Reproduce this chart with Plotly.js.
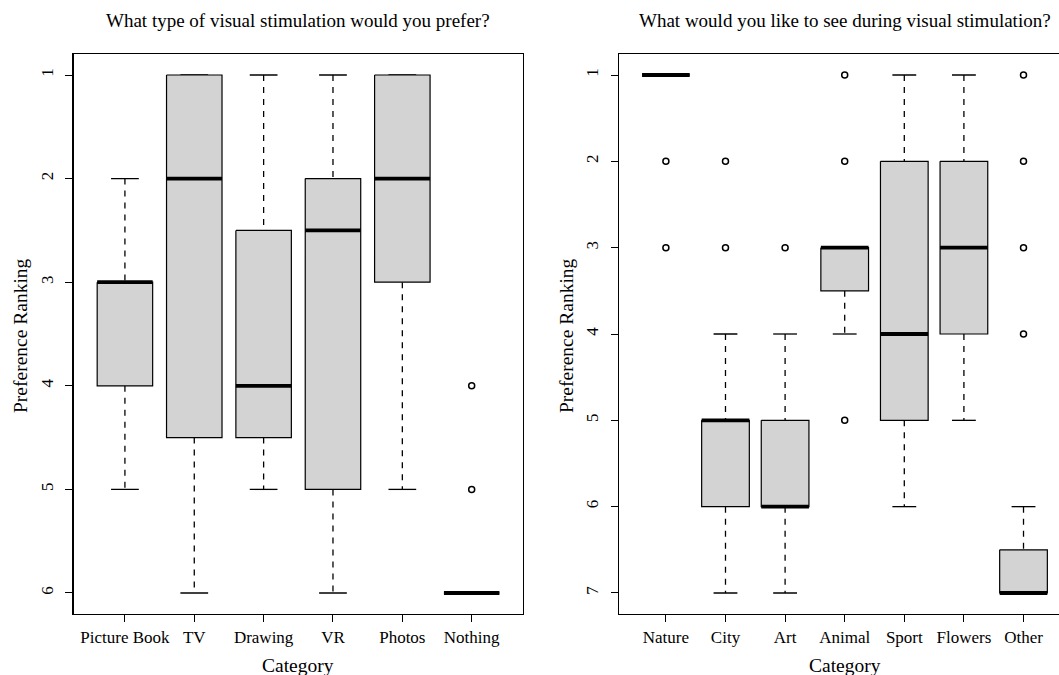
<!DOCTYPE html>
<html>
<head>
<meta charset="utf-8">
<script src="https://cdn.plot.ly/plotly-3.0.1.min.js"></script>
<style>
html,body{margin:0;padding:0;overflow:hidden;background:#fff;}
#chart{width:1075px;height:675px;}
</style>
</head>
<body>
<div id="chart"></div>
<script>
// ---------- Data ----------
const leftTitle = "What type of visual stimulation would you prefer?";
const leftCategories = ["Picture Book", "TV", "Drawing", "VR", "Photos", "Nothing"];
const leftWhiskerTop = [2, 1, 1, 1, 1, 6];
const leftQ1 = [3, 1, 2.5, 2, 1, 6];
const leftMedian = [3, 2, 4, 2.5, 2, 6];
const leftQ3 = [4, 4.5, 4.5, 5, 3, 6];
const leftWhiskerBottom = [5, 6, 5, 6, 5, 6];
const leftOutliers = [[], [], [], [], [], [4, 5]];
const leftTicks = [1, 2, 3, 4, 5, 6];

const rightTitle = "What would you like to see during visual stimulation?";
const rightCategories = ["Nature", "City", "Art", "Animal", "Sport", "Flowers", "Other"];
const rightWhiskerTop = [1, 4, 4, 3, 1, 1, 6];
const rightQ1 = [1, 5, 5, 3, 2, 2, 6.5];
const rightMedian = [1, 5, 6, 3, 4, 3, 7];
const rightQ3 = [1, 6, 6, 3.5, 5, 4, 7];
const rightWhiskerBottom = [1, 7, 7, 4, 6, 5, 7];
const rightOutliers = [[2, 3], [2, 3], [3], [1, 2, 5], [], [], [1, 2, 3, 4]];
const rightTicks = [1, 2, 3, 4, 5, 6, 7];

const xLabel = "Category";
const yLabel = "Preference Ranking";

// ---------- Build ----------
const W = 1075, H = 675;
const FONT = "Liberation Serif, Times New Roman, serif";
const traces = [];

function addBoxes(xa, ya, cats, wTop, q1, med, q3, wBot, outs) {
  cats.forEach((c, k) => {
    const i = k + 1;
    const hw = 0.4, cw = 0.2;
    traces.push({type: "scatter", mode: "lines", xaxis: xa, yaxis: ya,
      x: [i, i, null, i, i], y: [wTop[k], q1[k], null, q3[k], wBot[k]],
      line: {color: "black", width: 1.3, dash: "6px,6px"}, hoverinfo: "skip"});
    traces.push({type: "scatter", mode: "lines", xaxis: xa, yaxis: ya,
      x: [i - cw, i + cw, null, i - cw, i + cw], y: [wTop[k], wTop[k], null, wBot[k], wBot[k]],
      line: {color: "black", width: 1.3}, hoverinfo: "skip"});
    traces.push({type: "scatter", mode: "lines", xaxis: xa, yaxis: ya,
      x: [i - hw, i + hw, i + hw, i - hw, i - hw], y: [q1[k], q1[k], q3[k], q3[k], q1[k]],
      fill: "toself", fillcolor: "#d3d3d3", line: {color: "black", width: 1.2}, hoverinfo: "skip"});
    traces.push({type: "scatter", mode: "lines", xaxis: xa, yaxis: ya,
      x: [i - hw, i + hw], y: [med[k], med[k]],
      line: {color: "black", width: 3.8}, hoverinfo: "skip"});
    if (outs[k].length) {
      traces.push({type: "scatter", mode: "markers", xaxis: xa, yaxis: ya,
        x: outs[k].map(() => i), y: outs[k],
        marker: {symbol: "circle-open", size: 6, color: "black", line: {width: 1.5, color: "black"}},
        hoverinfo: "skip"});
    }
  });
}

addBoxes("x", "y", leftCategories, leftWhiskerTop, leftQ1, leftMedian, leftQ3, leftWhiskerBottom, leftOutliers);
addBoxes("x2", "y2", rightCategories, rightWhiskerTop, rightQ1, rightMedian, rightQ3, rightWhiskerBottom, rightOutliers);

const plotTop = 54.3, plotBot = 613.7;
const yDom = [1 - plotBot / H, 1 - plotTop / H];
const L1 = 73.6, R1 = 523, L2 = 619.4, R2 = 1070;

function xAxis(dom, cats) {
  const n = cats.length;
  const ext = n * 0.04;
  return {domain: dom, range: [0.5 - ext, n + 0.5 + ext], tickmode: "array",
    tickvals: cats.map((c, k) => k + 1), ticktext: cats,
    ticks: "outside", ticklen: 7, tickwidth: 1, tickcolor: "black",
    showline: true, linecolor: "black", linewidth: 1.2, mirror: true,
    showgrid: false, zeroline: false, fixedrange: true,
    tickfont: {family: FONT, size: 17, color: "black"}, ticklabelstandoff: 1};
}
function yAxis(anchor, ticks) {
  const n = ticks.length;
  const ext = (n - 1) * 0.04;
  return {anchor: anchor, domain: yDom, range: [n + ext, 1 - ext], tickmode: "array",
    tickvals: ticks, ticktext: ticks.map(String), tickangle: -90,
    ticks: "outside", ticklen: 7, tickwidth: 1, tickcolor: "black",
    showline: true, linecolor: "black", linewidth: 1.2, mirror: true,
    showgrid: false, zeroline: false, fixedrange: true,
    tickfont: {family: FONT, size: 17, color: "black"}, ticklabelstandoff: 6};
}

const xa1 = xAxis([L1 / W, R1 / W], leftCategories); xa1.anchor = "y";
const xa2 = xAxis([L2 / W, R2 / W], rightCategories); xa2.anchor = "y2";

function ann(text, xpx, ypx, size, angle) {
  return {text: text, xref: "paper", yref: "paper", x: xpx / W, y: 1 - ypx / H,
    xanchor: "center", yanchor: "middle", showarrow: false, textangle: angle || 0,
    font: {family: FONT, size: size, color: "black"}};
}

const layout = {
  width: W, height: H, margin: {l: 0, r: 0, t: 0, b: 0},
  paper_bgcolor: "white", plot_bgcolor: "white", showlegend: false, hovermode: false,
  xaxis: xa1, yaxis: yAxis("x", leftTicks),
  xaxis2: xa2, yaxis2: yAxis("x2", rightTicks),
  annotations: [
    ann(leftTitle, (L1 + R1) / 2, 20, 19),
    ann(rightTitle, (L2 + R2) / 2, 20, 19),
    ann(xLabel, (L1 + R1) / 2, 665, 19.5),
    ann(xLabel, (L2 + R2) / 2, 665, 19.5),
    ann(yLabel, 20, (plotTop + plotBot) / 2 + 2, 19.5, -90),
    ann(yLabel, 566, (plotTop + plotBot) / 2 + 2, 19.5, -90)
  ]
};

Plotly.newPlot("chart", traces, layout, {staticPlot: true, displayModeBar: false});
</script>
</body>
</html>
